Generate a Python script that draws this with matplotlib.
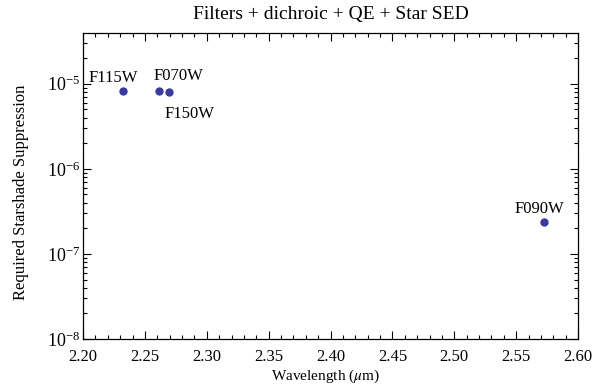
"""Required starshade suppression per filter vs. wavelength."""
import matplotlib.pyplot as plt
from matplotlib.ticker import LogLocator, MultipleLocator, NullFormatter

plt.rcParams['font.family'] = ['Liberation Serif', 'DejaVu Serif']
plt.rcParams['mathtext.fontset'] = 'stix'

# Filter data
filters = ['F115W', 'F070W', 'F150W', 'F090W']
wavelength = [2.2323, 2.2611, 2.2691, 2.5725]
suppression = [8.3e-6, 8.3e-6, 8.0e-6, 2.39e-7]

# label offsets in points (dx, dy, va)
label_pos = {
    'F115W': (-7, 6, 'baseline'),
    'F070W': (14, 8, 'baseline'),
    'F150W': (15, -10, 'top'),
    'F090W': (-3, 6.5, 'baseline'),
}

fig = plt.figure(figsize=(5.92, 3.92), dpi=100)
ax = fig.add_axes([0.1402, 0.1352, 0.8362, 0.7806])

ax.scatter(wavelength, suppression, s=36, color='#3a3a9c', zorder=3,
           linewidths=0)

for name, x, y in zip(filters, wavelength, suppression):
    dx, dy, va = label_pos[name]
    ax.annotate(name, (x, y), xytext=(dx, dy), textcoords='offset points',
                ha='center', va=va, fontsize=12)

ax.set_yscale('log')
ax.set_xlim(2.20, 2.60)
ax.set_ylim(1e-8, 3.95e-5)

ax.xaxis.set_major_locator(MultipleLocator(0.05))
ax.xaxis.set_minor_locator(MultipleLocator(0.01))
ax.xaxis.set_major_formatter(plt.FuncFormatter(lambda v, p: '%.2f' % v))
ax.yaxis.set_major_locator(LogLocator(base=10, numticks=10))
ax.yaxis.set_minor_locator(LogLocator(base=10, subs=range(2, 10), numticks=10))
ax.yaxis.set_minor_formatter(NullFormatter())

ax.tick_params(which='both', direction='in', top=True, right=True, width=0.8)
ax.tick_params(which='major', length=6)
ax.tick_params(which='minor', length=3)
ax.tick_params(axis='x', labelsize=12, pad=7)
ax.tick_params(axis='y', labelsize=13, pad=2)
for spine in ax.spines.values():
    spine.set_linewidth(0.9)

ax.set_xlabel(r'Wavelength ($\mu$m)', fontsize=11)
ax.xaxis.set_label_coords(0.49, -0.094)
ax.set_ylabel('Required Starshade Suppression', fontsize=12)
ax.yaxis.set_label_coords(-0.11, 0.481)
ax.set_title('Filters + dichroic + QE + Star SED', fontsize=14, pad=10)

fig.savefig('out.png', dpi=100)
